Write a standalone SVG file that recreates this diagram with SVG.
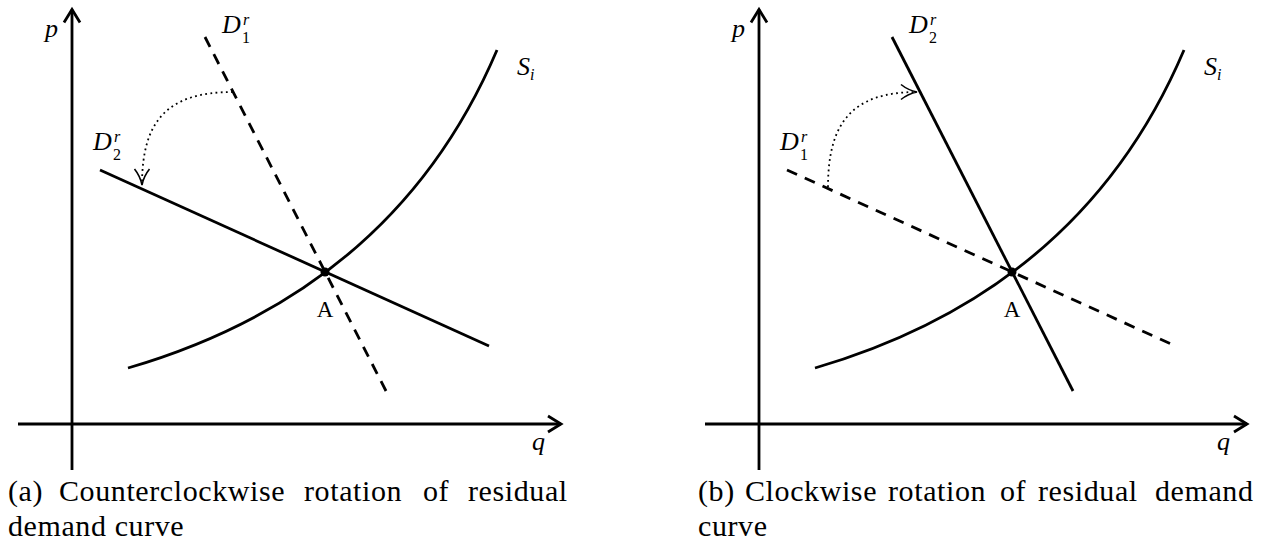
<svg xmlns="http://www.w3.org/2000/svg" width="1278" height="546" viewBox="0 0 1278 546">
<style>
.ln{fill:none;stroke:#000;stroke-width:2.8;stroke-linecap:butt}
.dash-a{stroke-dasharray:11 8.33}
.dash-b{stroke-dasharray:11 8.5}
.dot{fill:none;stroke:#000;stroke-width:1.8;stroke-dasharray:1.8 3.4}
.math{font-family:"Liberation Serif","Times New Roman",serif;font-style:italic;font-size:26px;fill:#000}
.sub{font-family:"Liberation Serif","Times New Roman",serif;font-style:italic;font-size:16px;fill:#000}
.subn{font-family:"Liberation Serif","Times New Roman",serif;font-size:16px;fill:#000}
.pt{font-family:"Liberation Serif","Times New Roman",serif;font-size:23px;fill:#000}
.cap{font-family:"Liberation Serif","Times New Roman",serif;font-size:30px;letter-spacing:0.6px;fill:#000}
</style>
<defs>
<marker id="axarr" markerUnits="userSpaceOnUse" markerWidth="30" markerHeight="30" refX="0" refY="0" orient="auto" overflow="visible">
<path d="M -13 -8 L 0 0 L -13 8" fill="none" stroke="#000" stroke-width="2.8" stroke-linejoin="miter"/>
</marker>
<marker id="toarr" markerUnits="userSpaceOnUse" markerWidth="30" markerHeight="30" refX="0" refY="0" orient="auto" overflow="visible">
<path d="M -16 -7.5 C -11 -3.5 -4 -0.8 0 0 C -4 0.8 -11 3.5 -16 7.5" fill="none" stroke="#000" stroke-width="1.6" stroke-dasharray="none"/>
</marker>
</defs>

<g id="panel-a">
<g id="a-connectors">
<line id="a-qaxis" class="ln" x1="18" y1="424" x2="561" y2="424" marker-end="url(#axarr)"/>
<line id="a-paxis" class="ln" x1="72" y1="470" x2="72" y2="9.5" marker-end="url(#axarr)"/>
<path id="a-supply" class="ln" d="M 128 368 Q 395 290 497 50"/>
<line id="a-d1" class="ln dash-a" x1="205" y1="37" x2="386" y2="391"/>
<line id="a-d2" class="ln" x1="100" y1="170" x2="489" y2="346"/>
<path id="a-rot" class="dot" d="M 233 92 C 168 92 142 120 142 185" marker-end="url(#toarr)"/>
</g>
<g id="a-point"><circle cx="325" cy="272" r="4.5" fill="#000"/><text class="pt" x="325" y="317" text-anchor="middle">A</text></g>
<g id="a-labels">
<text class="math" x="45" y="37">p</text>
<text class="math" x="532" y="450">q</text>
<g id="a-lab-s"><text class="math" x="517" y="75">S</text><text class="sub" x="530" y="80">i</text></g>
<g id="a-lab-d1"><text class="math" x="222" y="33">D</text><text class="sub" x="243" y="24.5">r</text><text class="subn" x="242" y="42.5">1</text></g>
<g id="a-lab-d2"><text class="math" x="93" y="150">D</text><text class="sub" x="114" y="141.5">r</text><text class="subn" x="113" y="159.5">2</text></g>
</g>
<text id="a-caption" class="cap" y="501"><tspan x="8">(a)</tspan><tspan x="59">Counterclockwise</tspan><tspan x="304">rotation</tspan><tspan x="423">of</tspan><tspan x="468">residual</tspan><tspan x="8" y="536">demand curve</tspan></text>
</g>

<g id="panel-b">
<g id="b-connectors">
<line id="b-qaxis" class="ln" x1="705" y1="424" x2="1247" y2="424" marker-end="url(#axarr)"/>
<line id="b-paxis" class="ln" x1="759" y1="470" x2="759" y2="9.5" marker-end="url(#axarr)"/>
<path id="b-supply" class="ln" d="M 815 368 Q 1082 290 1184 50"/>
<line id="b-d1" class="ln dash-b" x1="787" y1="170" x2="1170" y2="343.5"/>
<line id="b-d2" class="ln" x1="892" y1="37" x2="1073" y2="391"/>
<path id="b-rot" class="dot" d="M 828 187 C 828 122 853 92 917 92" marker-end="url(#toarr)"/>
</g>
<g id="b-point"><circle cx="1012" cy="272" r="4.5" fill="#000"/><text class="pt" x="1012" y="317" text-anchor="middle">A</text></g>
<g id="b-labels">
<text class="math" x="732" y="37">p</text>
<text class="math" x="1217" y="450">q</text>
<g id="b-lab-s"><text class="math" x="1204" y="75">S</text><text class="sub" x="1217" y="80">i</text></g>
<g id="b-lab-d2"><text class="math" x="909" y="33">D</text><text class="sub" x="930" y="24.5">r</text><text class="subn" x="929" y="42.5">2</text></g>
<g id="b-lab-d1"><text class="math" x="780" y="150">D</text><text class="sub" x="801" y="141.5">r</text><text class="subn" x="800" y="159.5">1</text></g>
</g>
<text id="b-caption" class="cap" y="501"><tspan x="698">(b)</tspan><tspan x="745">Clockwise</tspan><tspan x="888">rotation</tspan><tspan x="1000">of</tspan><tspan x="1038">residual</tspan><tspan x="1155">demand</tspan><tspan x="698" y="536">curve</tspan></text>
</g>
</svg>
